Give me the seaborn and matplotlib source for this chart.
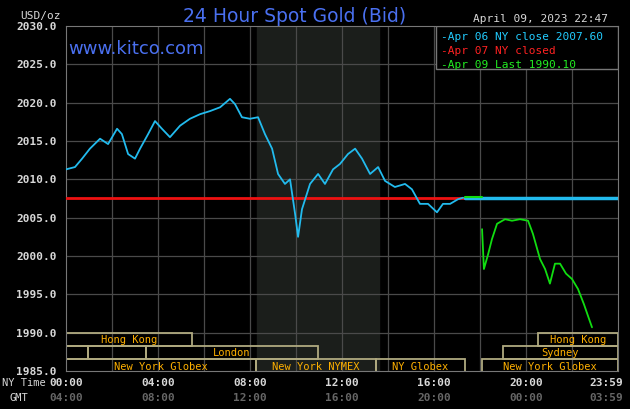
import matplotlib
matplotlib.use("Agg")
import matplotlib.pyplot as plt
import seaborn as sns
import pandas as pd
import numpy as np

# NY time (hours) and bid price
ny_hours = [0.0, 0.39, 0.7, 1.04, 1.48, 1.83, 2.22, 2.43, 2.7, 3.0, 3.22, 3.57, 3.87, 4.17, 4.52,
            4.96, 5.39, 5.83, 6.26, 6.7, 7.13, 7.35, 7.65, 8.0, 8.35, 8.65, 8.96, 9.22, 9.52, 9.74,
            9.96, 10.09, 10.26, 10.61, 10.96, 11.26, 11.61, 11.91, 12.26, 12.57, 12.87, 13.22,
            13.57, 13.87, 14.3, 14.74, 15.04, 15.39, 15.74, 16.13, 16.39, 16.7, 17.04, 17.26]
ny_price = [2011.3, 2011.6, 2012.7, 2014.0, 2015.3, 2014.6, 2016.6, 2015.9, 2013.3, 2012.7, 2014.0,
            2015.9, 2017.6, 2016.6, 2015.5, 2017.0, 2017.9, 2018.5, 2018.9, 2019.4, 2020.5, 2019.8,
            2018.1, 2017.9, 2018.1, 2015.9, 2014.0, 2010.7, 2009.4, 2010.0, 2005.5, 2002.5, 2006.1,
            2009.4, 2010.7, 2009.4, 2011.3, 2012.0, 2013.3, 2014.0, 2012.7, 2010.7, 2011.6, 2009.8,
            2009.0, 2009.4, 2008.7, 2006.8, 2006.8, 2005.7, 2006.8, 2006.8, 2007.4, 2007.6]
last_hours = [18.09, 18.17, 18.35, 18.52, 18.74, 19.09, 19.39, 19.74, 20.09, 20.3, 20.61, 20.83,
              21.04, 21.26, 21.48, 21.74, 22.0, 22.26, 22.52, 22.74, 22.87]
last_price = [2003.5, 1998.3, 2000.2, 2002.2, 2004.2, 2004.8, 2004.6, 2004.8, 2004.6, 2002.9, 1999.6,
              1998.3, 1996.4, 1999.0, 1999.0, 1997.7, 1997.0, 1995.7, 1993.7, 1991.8, 1990.7]
prev_close = 2007.60

x_ticks = [0, 4, 8, 12, 16, 20, 23.98]
ny_labels = ["00:00", "04:00", "08:00", "12:00", "16:00", "20:00", "23:59"]
gmt_labels = ["04:00", "08:00", "12:00", "16:00", "20:00", "00:00", "03:59"]

# sessions: (row, start, end, label)
sessions = [(0, 0.0, 5.48, "Hong Kong"), (0, 20.52, 24.0, "Hong Kong"),
            (1, 0.0, 0.96, ""), (1, 0.96, 3.48, ""), (1, 3.48, 10.96, "London"), (1, 19.0, 24.0, "Sydney"),
            (2, 0.0, 8.26, "New York Globex"), (2, 8.26, 13.48, "New York NYMEX"),
            (2, 13.48, 17.35, "NY Globex"), (2, 18.09, 24.0, "New York Globex")]

mono = "DejaVu Sans Mono"
sns.set_style("dark")
plt.rcParams["font.family"] = mono

fig = plt.figure(figsize=(6.3, 4.1), dpi=100, facecolor="black")
ax = fig.add_axes([66 / 630, 38 / 410, 552 / 630, 345 / 410])
ax.set_facecolor("black")
ax.set_xlim(0, 24)
ax.set_ylim(1985, 2030)

ax.axvspan(8.3, 13.6, color="#1b1e1b", zorder=0)
for h in range(2, 24, 2):
    ax.axvline(h, color="#4a4a4a", lw=0.9, zorder=1)
for v in np.arange(1990, 2030, 5):
    ax.axhline(v, color="#4a4a4a", lw=0.9, zorder=1)

# session bars
row_h = 1.72
for row, s, e, lab in sessions:
    top = 1990 - row * row_h
    ax.add_patch(plt.Rectangle((s, top - row_h), e - s, row_h, fill=False,
                               ec="#b0aa80", lw=1.3, zorder=2))
    if lab:
        ax.text((s + e) / 2, top - row_h / 2, lab, color="#ffb000", fontsize=7.5,
                ha="center", va="center", zorder=3)

ax.plot([0, 17.35], [prev_close, prev_close], color="#ee1111", lw=2, zorder=3)
ax.plot([17.35, 24], [prev_close, prev_close], color="#22bbee", lw=2.5, zorder=3)
ax.plot([17.35, 18.09], [prev_close + 0.1, prev_close + 0.1], color="#11dd11", lw=1.5, zorder=4)

sns.lineplot(x=ny_hours, y=ny_price, ax=ax, color="#22bbee", lw=1.3, zorder=4)
sns.lineplot(x=last_hours, y=last_price, ax=ax, color="#11dd11", lw=1.3, zorder=4)

for sp in ax.spines.values():
    sp.set_color("#777777")
ax.set_xticks([])
ax.set_yticks([])

# y labels
for v in np.arange(1985, 2031, 5):
    ax.text(-0.4, v, f"{v:.1f}", color="#d8d8d8", fontsize=8, ha="right", va="center",
            fontweight="bold", transform=ax.transData, clip_on=False)
for h, a, b in zip(x_ticks, ny_labels, gmt_labels):
    xp = min((66 + h * 23) / 630, 606 / 630)
    fig.text(xp, 1 - 383 / 410, a, color="#d8d8d8", fontsize=8, ha="center", va="center",
             fontweight="bold")
    fig.text(xp, 1 - 398 / 410, b, color="#666666", fontsize=8, ha="center", va="center",
             fontweight="bold")
fig.text(2 / 630, 1 - 383 / 410, "NY Time", color="#d8d8d8", fontsize=7.5, ha="left", va="center")
fig.text(10 / 630, 1 - 398 / 410, "GMT", color="#d8d8d8", fontsize=7.5, ha="left", va="center")
fig.text(20 / 630, 1 - 16 / 410, "USD/oz", color="#d8d8d8", fontsize=8, ha="left", va="center")
fig.text(295 / 630, 1 - 16 / 410, "24 Hour Spot Gold (Bid)", color="#4a70f0", fontsize=13.5,
         ha="center", va="center", family="DejaVu Sans")
fig.text(608 / 630, 1 - 19 / 410, "April 09, 2023 22:47", color="#d8d8d8", fontsize=8,
         ha="right", va="center")
fig.text(68 / 630, 1 - 49 / 410, "www.kitco.com", color="#4a70f0", fontsize=13,
         ha="left", va="center", family="DejaVu Sans")

# legend box
ax.add_patch(plt.Rectangle((16.1, 2024.4), 7.9, 5.6, fc="black", ec="#777777", lw=1, zorder=5))
leg = [("-Apr 06 NY close 2007.60", "#22ccff"), ("-Apr 07 NY closed", "#ff2222"),
       ("-Apr 09 Last 1990.10", "#22ee22")]
for i, (t, c) in enumerate(leg):
    ax.text(16.3, 2028.7 - i * 1.8, t, color=c, fontsize=8, ha="left", va="center", zorder=6)

fig.savefig("out.png", dpi=100, facecolor="black")
